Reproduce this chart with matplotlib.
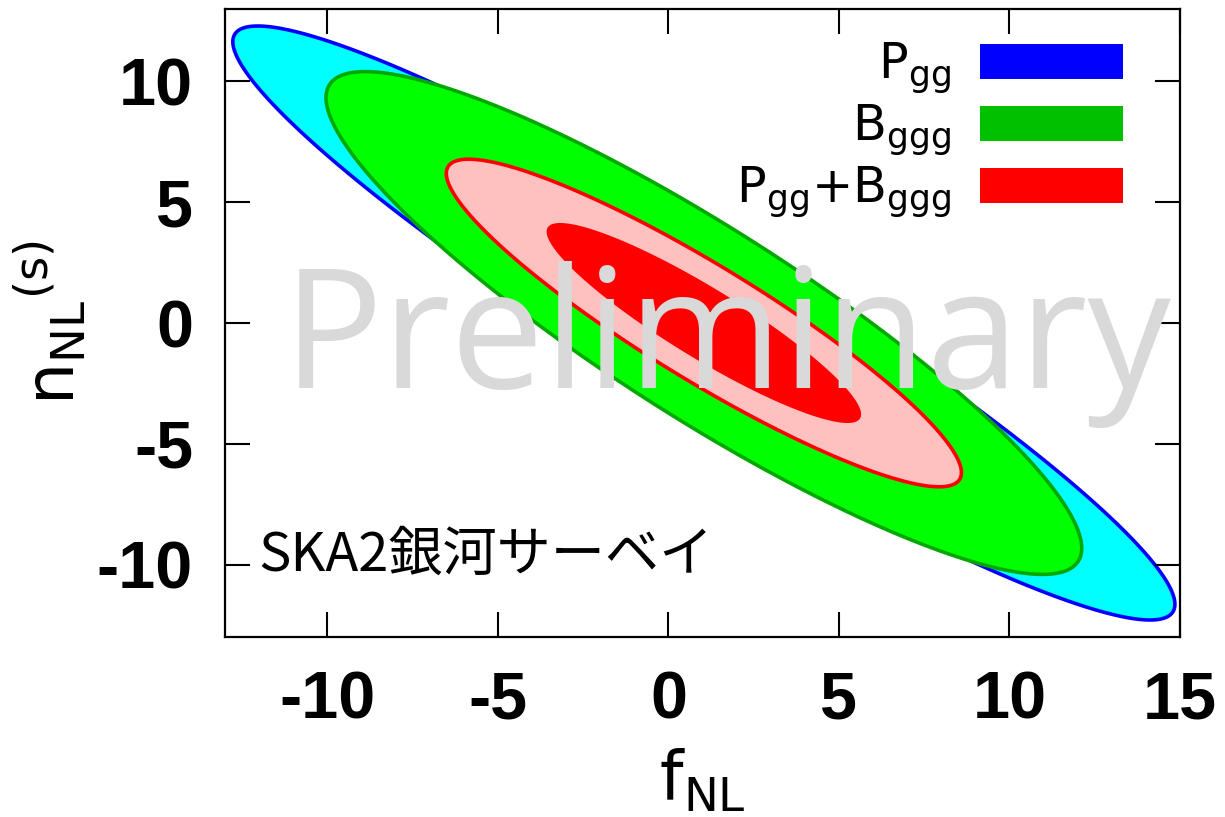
import numpy as np
import matplotlib
matplotlib.use('Agg')
from matplotlib import pyplot as plt
from matplotlib.patches import Patch

plt.rcParams['axes.unicode_minus'] = False
plt.rcParams['mathtext.default'] = 'regular'
plt.rcParams['font.family'] = ['DejaVu Sans']

# Fisher forecast: fiducial values, marginalised 1-sigma errors and correlation
probes = ['$P_{gg}$', '$B_{ggg}$', '$P_{gg}$+$B_{ggg}$']
fid_fnl = 1.04
fid_nnl = 0.0
sigma_fnl = [5.56, 4.46, 3.04]
sigma_nnl = [4.95, 4.19, 2.73]
rho = [-0.947, -0.896, -0.913]
dchi2 = [6.17, 2.30]  # 2-sigma, 1-sigma levels for 2 parameters

outer_colors = ['#00ffff', '#00ff00', '#ffc0c0']
inner_colors = ['#0000ff', '#00c000', '#ff0000']
edge_colors = ['#0000ff', '#00a800', '#ff0000']

xticks = [-10, -5, 0, 5, 10, 15]
yticks = [-10, -5, 0, 5, 10]


def ellipse(sx, sy, r, level, n=400):
    cov = np.array([[sx**2, r * sx * sy], [r * sx * sy, sy**2]])
    L = np.linalg.cholesky(cov)
    t = np.linspace(0, 2 * np.pi, n)
    pts = np.sqrt(level) * L @ np.vstack([np.cos(t), np.sin(t)])
    return fid_fnl + pts[0], fid_nnl + pts[1]


fig = plt.figure(figsize=(12.25, 8.17), dpi=100)
ax = fig.add_axes([225 / 1225, 1 - 637 / 817, 955 / 1225, 628 / 817])

z = 1
for i in range(len(probes)):
    x, y = ellipse(sigma_fnl[i], sigma_nnl[i], rho[i], dchi2[0])
    ax.fill(x, y, facecolor=outer_colors[i], edgecolor=edge_colors[i], lw=2.6, zorder=z)
    x, y = ellipse(sigma_fnl[i], sigma_nnl[i], rho[i], dchi2[1])
    ax.fill(x, y, facecolor=inner_colors[i], edgecolor='none', zorder=z + 1)
    z += 2

ax.set_xlim(-13, 15)
ax.set_ylim(-13, 13)
ax.set_xticks(xticks)
ax.set_yticks(yticks)
ax.tick_params(direction='in', length=18, width=1.5, top=True, right=True,
               labelsize=48)
ax.tick_params(axis='x', pad=24)
ax.tick_params(axis='y', pad=23)
for lab in ax.get_xticklabels() + ax.get_yticklabels():
    lab.set_fontfamily('Liberation Sans')
    lab.set_fontweight('bold')
for sp in ax.spines.values():
    sp.set_linewidth(1.6)
    sp.set_zorder(20)

ax.set_xlabel('$f_{NL}$', fontsize=48, labelpad=11)
ax.set_ylabel('$n_{NL}{}^{(s)}$', fontsize=48, labelpad=6)

handles = [Patch(facecolor=c, edgecolor='none') for c in inner_colors]
leg = ax.legend(handles, probes, loc='upper right', frameon=False, markerfirst=False,
                fontsize=35.5, handlelength=2.9, handleheight=0.72, handletextpad=0.6,
                labelspacing=0.14, borderaxespad=0.0, borderpad=0.6,
                bbox_to_anchor=(1 - 27 / 955, 1.0 - 2 / 628))
leg.set_zorder(30)
for t in leg.get_texts():
    t.set_horizontalalignment('right')

ax.text(0.035, 0.106, 'SKA2銀河サーベイ', transform=ax.transAxes, fontsize=39,
        family=['Noto Sans CJK JP', 'DejaVu Sans'], va='baseline', ha='left', zorder=25)

ax.text(0.526, 0.396, 'Preliminary', transform=ax.transAxes, fontsize=120,
        family='Open Sans', color='#d9d9d9', ha='center', va='baseline', zorder=22)

fig.savefig('out.png', dpi=100)
